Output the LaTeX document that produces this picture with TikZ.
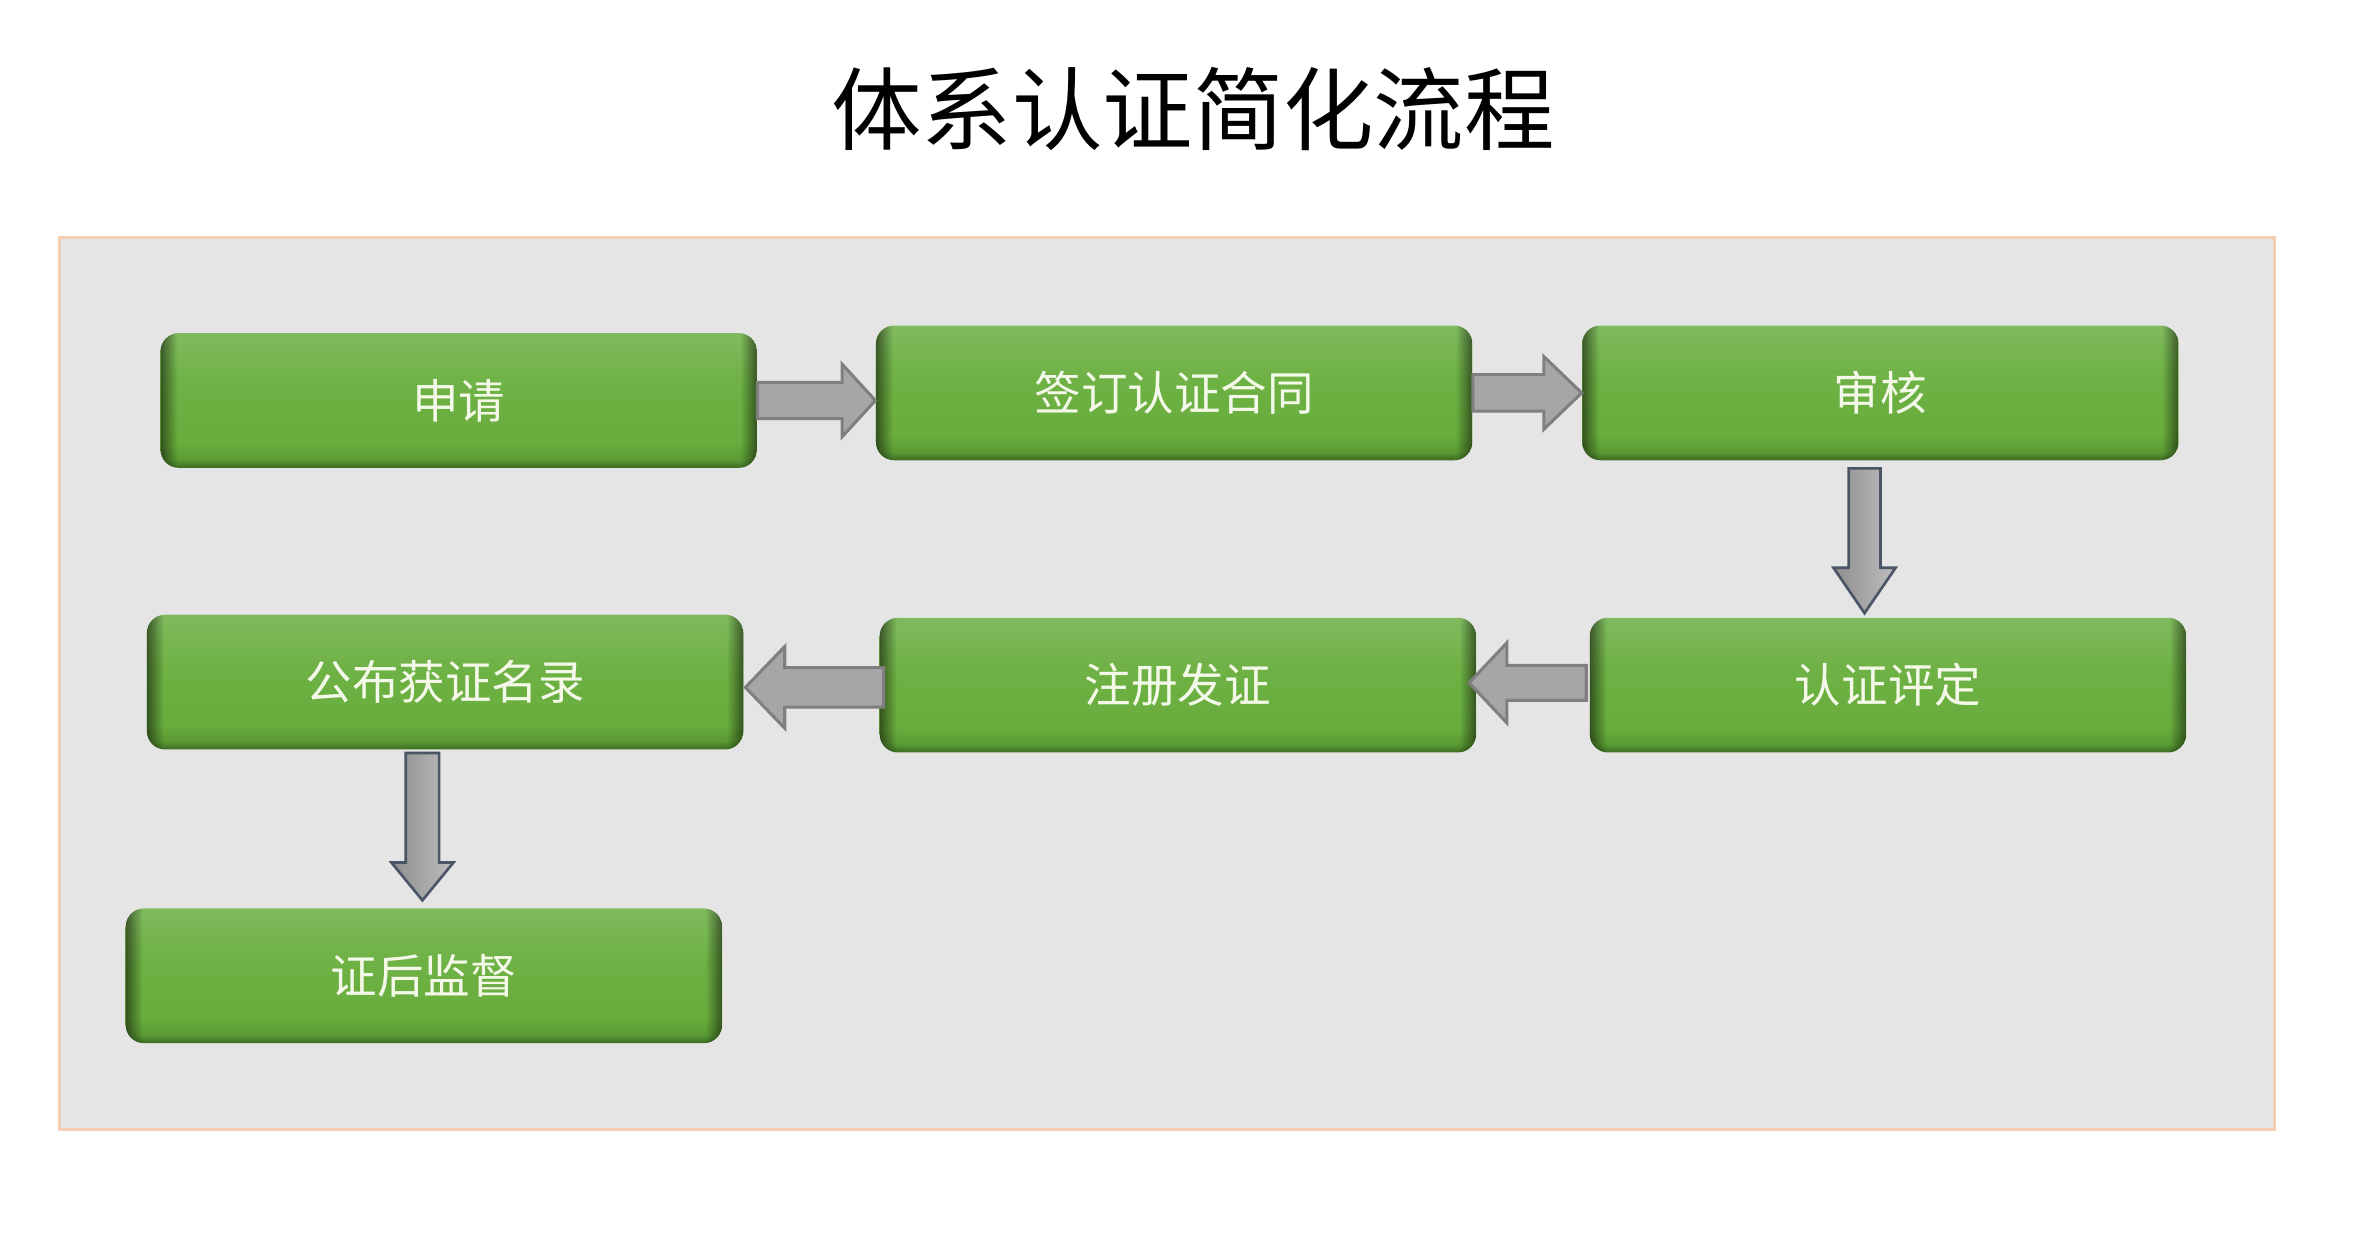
\documentclass[tikz,border=0pt]{standalone}
\usepackage{fontspec}
\newfontfamily\cjk{Noto Sans CJK SC}
\usetikzlibrary{fadings,calc}
\definecolor{panelbg}{HTML}{E6E5E6}
\definecolor{panelbd}{HTML}{F5CDB3}
\definecolor{boxtxt}{HTML}{F4F8E8}
\definecolor{harrowfill}{HTML}{A6A6A6}
\definecolor{harrowline}{HTML}{7F7F7F}
\definecolor{varrowline}{HTML}{4A5566}
\definecolor{varrowl}{HTML}{8E8E8E}
\definecolor{varrowr}{HTML}{BEBEBE}
\definecolor{gA}{HTML}{3B6A22}
\definecolor{gB}{HTML}{5A9A34}
\definecolor{gC}{HTML}{69AD3D}
\definecolor{gD}{HTML}{6EB144}
\definecolor{gE}{HTML}{80BA5E}
\pgfdeclareverticalshading{greenbox}{100bp}{color(0bp)=(gA); color(25bp)=(gA); color(28bp)=(gB); color(34bp)=(gC); color(55bp)=(gD); color(75bp)=(gE); color(100bp)=(gE)}
\pgfdeclarehorizontalshading{sidemask}{100bp}{color(0bp)=(black!45); color(25bp)=(black!45); color(26.5bp)=(black); color(73.5bp)=(black); color(75bp)=(black!45); color(100bp)=(black!45)}
\pgfdeclarefading{sidefade}{\pgfuseshading{sidemask}}
\newcommand\fatH[6]{%
  \draw[#1] ([shift={(0,-#4)}]#2) -- ([shift={(-#6,-#4)}]#3) -- ([shift={(-#6,-#5)}]#3) -- (#3)
    -- ([shift={(-#6,#5)}]#3) -- ([shift={(-#6,#4)}]#3) -- ([shift={(0,#4)}]#2) -- cycle;}
\newcommand\fatV[6]{%
  \draw[#1] ([shift={(-#4,0)}]#2) -- ([shift={(-#4,-#6)}]#3) -- ([shift={(-#5,-#6)}]#3) -- (#3)
    -- ([shift={(#5,-#6)}]#3) -- ([shift={(#4,-#6)}]#3) -- ([shift={(#4,0)}]#2) -- cycle;}
\begin{document}
\begin{tikzpicture}[x=0.02cm,y=-0.02cm,
  stepbox/.style={rectangle, rounded corners=0.24cm, minimum width=7.88cm, minimum height=1.78cm,
    inner sep=0pt, shading=greenbox, text=boxtxt, font=\cjk\fontsize{17.5pt}{20pt}\selectfont,
    path picture={\fill[black, path fading=sidefade] (path picture bounding box.south west) rectangle (path picture bounding box.north east);}},
  titlestyle/.style={font=\cjk\fontsize{34pt}{40pt}\selectfont, text=black, inner sep=0pt},
  panel/.style={fill=panelbg, draw=panelbd, line width=0.04cm},
  harrow/.style={draw=harrowline, fill=harrowfill, line width=0.04cm, line join=miter},
  varrow/.style={draw=varrowline, left color=varrowl, right color=varrowr, line width=0.035cm, line join=miter}]
\useasboundingbox (0,0) rectangle (1568,829);
\fill[white] (0,0) rectangle (1568,829);
\node[titlestyle] (title) at (788,72) {体系认证简化流程};
\path[panel] (39,157) rectangle (1502,746);
\node[stepbox] (b1) at (303,264.5) {申请};
\node[stepbox] (b2) at (775.5,259.5) {签订认证合同};
\node[stepbox] (b3) at (1242,259.5) {审核};
\node[stepbox] (b4) at (1247,452.5) {认证评定};
\node[stepbox] (b5) at (778,452.5) {注册发证};
\node[stepbox] (b6) at (294,450.5) {公布获证名录};
\node[stepbox] (b7) at (280,644.5) {证后监督};
\coordinate (a1s) at (b1.east);
\coordinate (a1t) at (b2.west |- b1.east);
\coordinate (a2s) at (b2.east);
\coordinate (a2t) at (b3.west |- b2.east);
\coordinate (a3s) at ($(b3.south)+(-10.5,5)$);
\coordinate (a3t) at (a3s |- 0,405);
\coordinate (a4s) at ($(b4.west)+(-2,-1.5)$);
\coordinate (a4t) at ($(b5.east |- a4s)+(-5,0)$);
\coordinate (a5s) at ($(b5.west)+(3,1.5)$);
\coordinate (a5t) at ($(b6.east |- a5s)+(1,0)$);
\coordinate (a6s) at ($(b6.south)+(-15,2)$);
\coordinate (a6t) at ($(a6s |- b7.north)+(0,-5)$);
\fatH{harrow}{a1s}{a1t}{12}{24}{22}
\fatH{harrow}{a2s}{a2t}{12}{24}{25}
\fatV{varrow}{a3s}{a3t}{10.5}{20.5}{30}
\fatH{harrow}{a4s}{a4t}{11.5}{26.5}{-25}
\fatH{harrow}{a5s}{a5t}{13}{27}{-26}
\fatV{varrow}{a6s}{a6t}{11}{20.5}{25}
\end{tikzpicture}
\end{document}
